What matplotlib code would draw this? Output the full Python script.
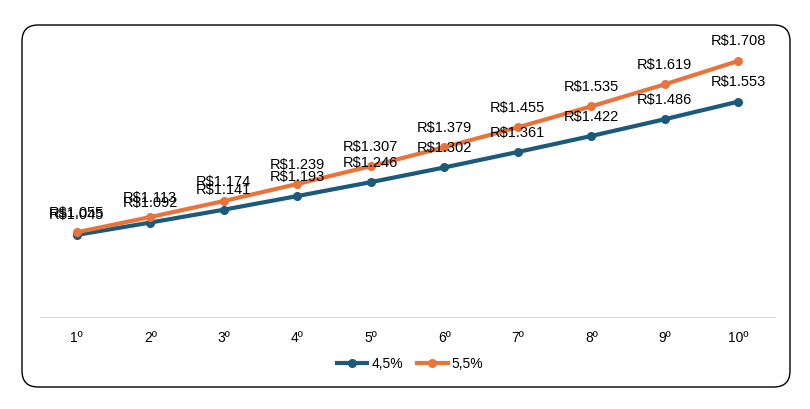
import matplotlib
matplotlib.use("Agg")
import matplotlib.pyplot as plt
from matplotlib.patches import FancyBboxPatch

categories = ["1º","2º","3º","4º","5º","6º","7º","8º","9º","10º"]
s45 = [1.045,1.092,1.141,1.193,1.246,1.302,1.361,1.422,1.486,1.553]
s55 = [1.055,1.113,1.174,1.239,1.307,1.379,1.455,1.535,1.619,1.708]
names = ["4,5%","5,5%"]
colors = ["#1B5A7A","#E8743B"]

plt.rcParams["font.family"] = "Liberation Sans"
fig = plt.figure(figsize=(8.10,4.09), dpi=100)
bg = fig.add_axes([0, 0, 1, 1], zorder=-5)
bg.set_axis_off()
bg.add_patch(FancyBboxPatch((22/810, 1-387/409), 768/810, 362/409,
    boxstyle="round,pad=0,rounding_size=0.02", transform=bg.transAxes,
    facecolor="white", edgecolor="black", linewidth=1.0, mutation_aspect=810/409))
ax = fig.add_axes([40/810, 1-317/409, 735/810, 277/409], zorder=1)
ax.set_facecolor("none")
x = list(range(1, 11))
for vals, c, n in zip([s45, s55], colors, names):
    ax.plot(x, vals, color=c, lw=3, marker="o", ms=5.5, label=n)
    for xi, v in zip(x, vals):
        ax.annotate(f"R${v:.3f}", (xi, v), xytext=(0, 9),
                    textcoords="offset points", ha="center", va="bottom", fontsize=10.5)
ax.set_xlim(0.5, 10.5)
ax.set_ylim(0.732, 1.788)
ax.set_xticks(x, categories, fontsize=10)
ax.set_yticks([])
for s in ["top","right","left"]:
    ax.spines[s].set_visible(False)
ax.spines["bottom"].set_color("#d9d9d9")
ax.tick_params(axis="x", length=0, pad=10)
fig.legend(loc="center", bbox_to_anchor=(410/810, 1-364/409), ncol=2, frameon=False,
           fontsize=10, handlelength=2.2, columnspacing=1.0, handletextpad=0.3)
fig.savefig("out.png", dpi=100)
